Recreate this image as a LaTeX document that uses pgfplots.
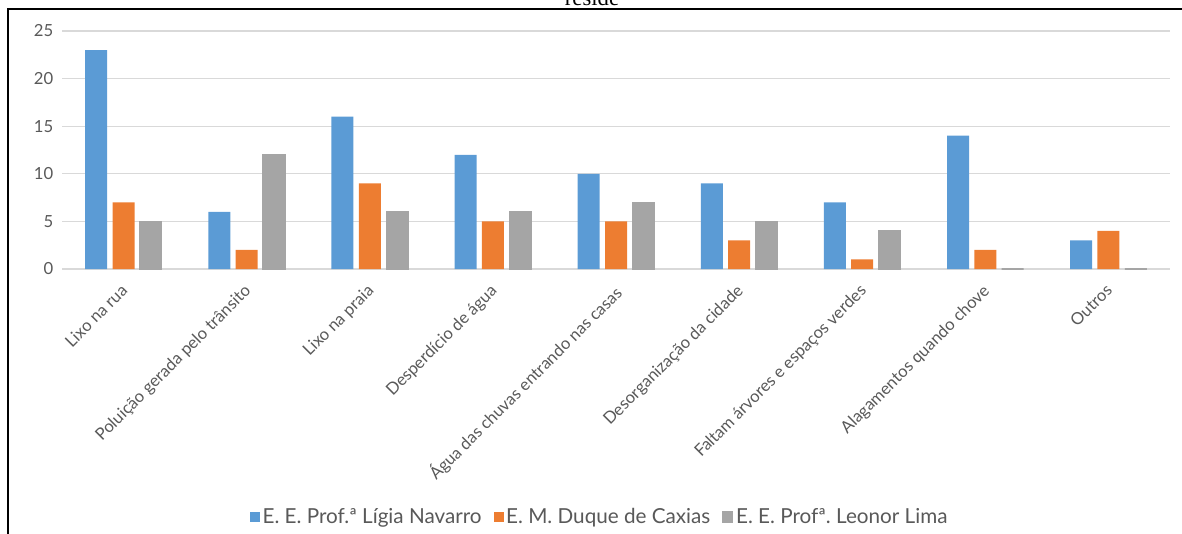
\documentclass[border=0pt]{standalone}
\usepackage{pgfplots}
\pgfplotsset{compat=1.18}
\usepackage{fontspec}
\setmainfont{Lato}
\newfontfamily\titlefont{Liberation Serif}
\definecolor{sblue}{HTML}{5B9BD5}
\definecolor{sorange}{HTML}{ED7D31}
\definecolor{sgray}{HTML}{A5A5A5}
\definecolor{gridc}{HTML}{D9D9D9}
\definecolor{txt}{HTML}{595959}
\begin{document}
\begin{tikzpicture}
\useasboundingbox (0,0) rectangle (886.5pt,-399.75pt);
\clip (0,0) rectangle (886.5pt,-399.75pt);
\node[font=\titlefont\fontsize{17}{17}\selectfont, anchor=base] at (444pt,-3.8pt) {reside};
\draw[line width=1.2pt, black] (6pt,-6.9pt) rectangle (900pt,-420pt);
\begin{axis}[
  at={(46.5pt,-201.75pt)}, anchor=south west,
  scale only axis, width=831pt, height=178.5pt,
  ybar=4pt, bar width=16.5pt,
  xmin=-0.5, xmax=8.5, ymin=0, ymax=25,
  ytick={0,5,...,25},
  xtick={0,...,8},
  xticklabels={Lixo na rua, Poluição gerada pelo trânsito, Lixo na praia, Desperdício de água, Água das chuvas entrando nas casas, Desorganização da cidade, Faltam árvores e espaços verdes, Alagamentos quando chove, Outros},
  axis line style={draw=none},
  major tick length=0pt,
  ymajorgrids, grid style={gridc, line width=0.9pt},
  /pgf/number format/assume math mode=true,
  ticklabel style={font=\fontsize{12.5}{14}\selectfont, text=txt},
  yticklabel style={xshift=-3pt},
  xticklabel style={rotate=45, anchor=north east, font=\fontsize{12.5}{14}\selectfont, xshift=-6pt, yshift=-2pt},
  legend style={at={(0.4856,-1.042)}, anchor=center, draw=none, legend columns=3, font=\fontsize{15.5}{17}\selectfont, text=txt, /tikz/every even column/.append style={column sep=7pt}},
  legend image code/.code={\fill[#1] (0pt,-3.75pt) rectangle (7.5pt,3.75pt);},
]
\addplot[fill=sblue, draw=none] coordinates {(0,23) (1,6) (2,16) (3,12) (4,10) (5,9) (6,7) (7,14) (8,3)};
\addplot[fill=sorange, draw=none] coordinates {(0,7) (1,2) (2,9) (3,5) (4,5) (5,3) (6,1) (7,2) (8,4)};
\addplot[fill=sgray, draw=sgray, line width=0.8pt] coordinates {(0,5) (1,12) (2,6) (3,6) (4,7) (5,5) (6,4) (7,0) (8,0)};
\legend{E. E. Prof.ª Lígia Navarro, E. M. Duque de Caxias, E. E. Profª.\ Leonor Lima}
\end{axis}
\end{tikzpicture}
\end{document}
